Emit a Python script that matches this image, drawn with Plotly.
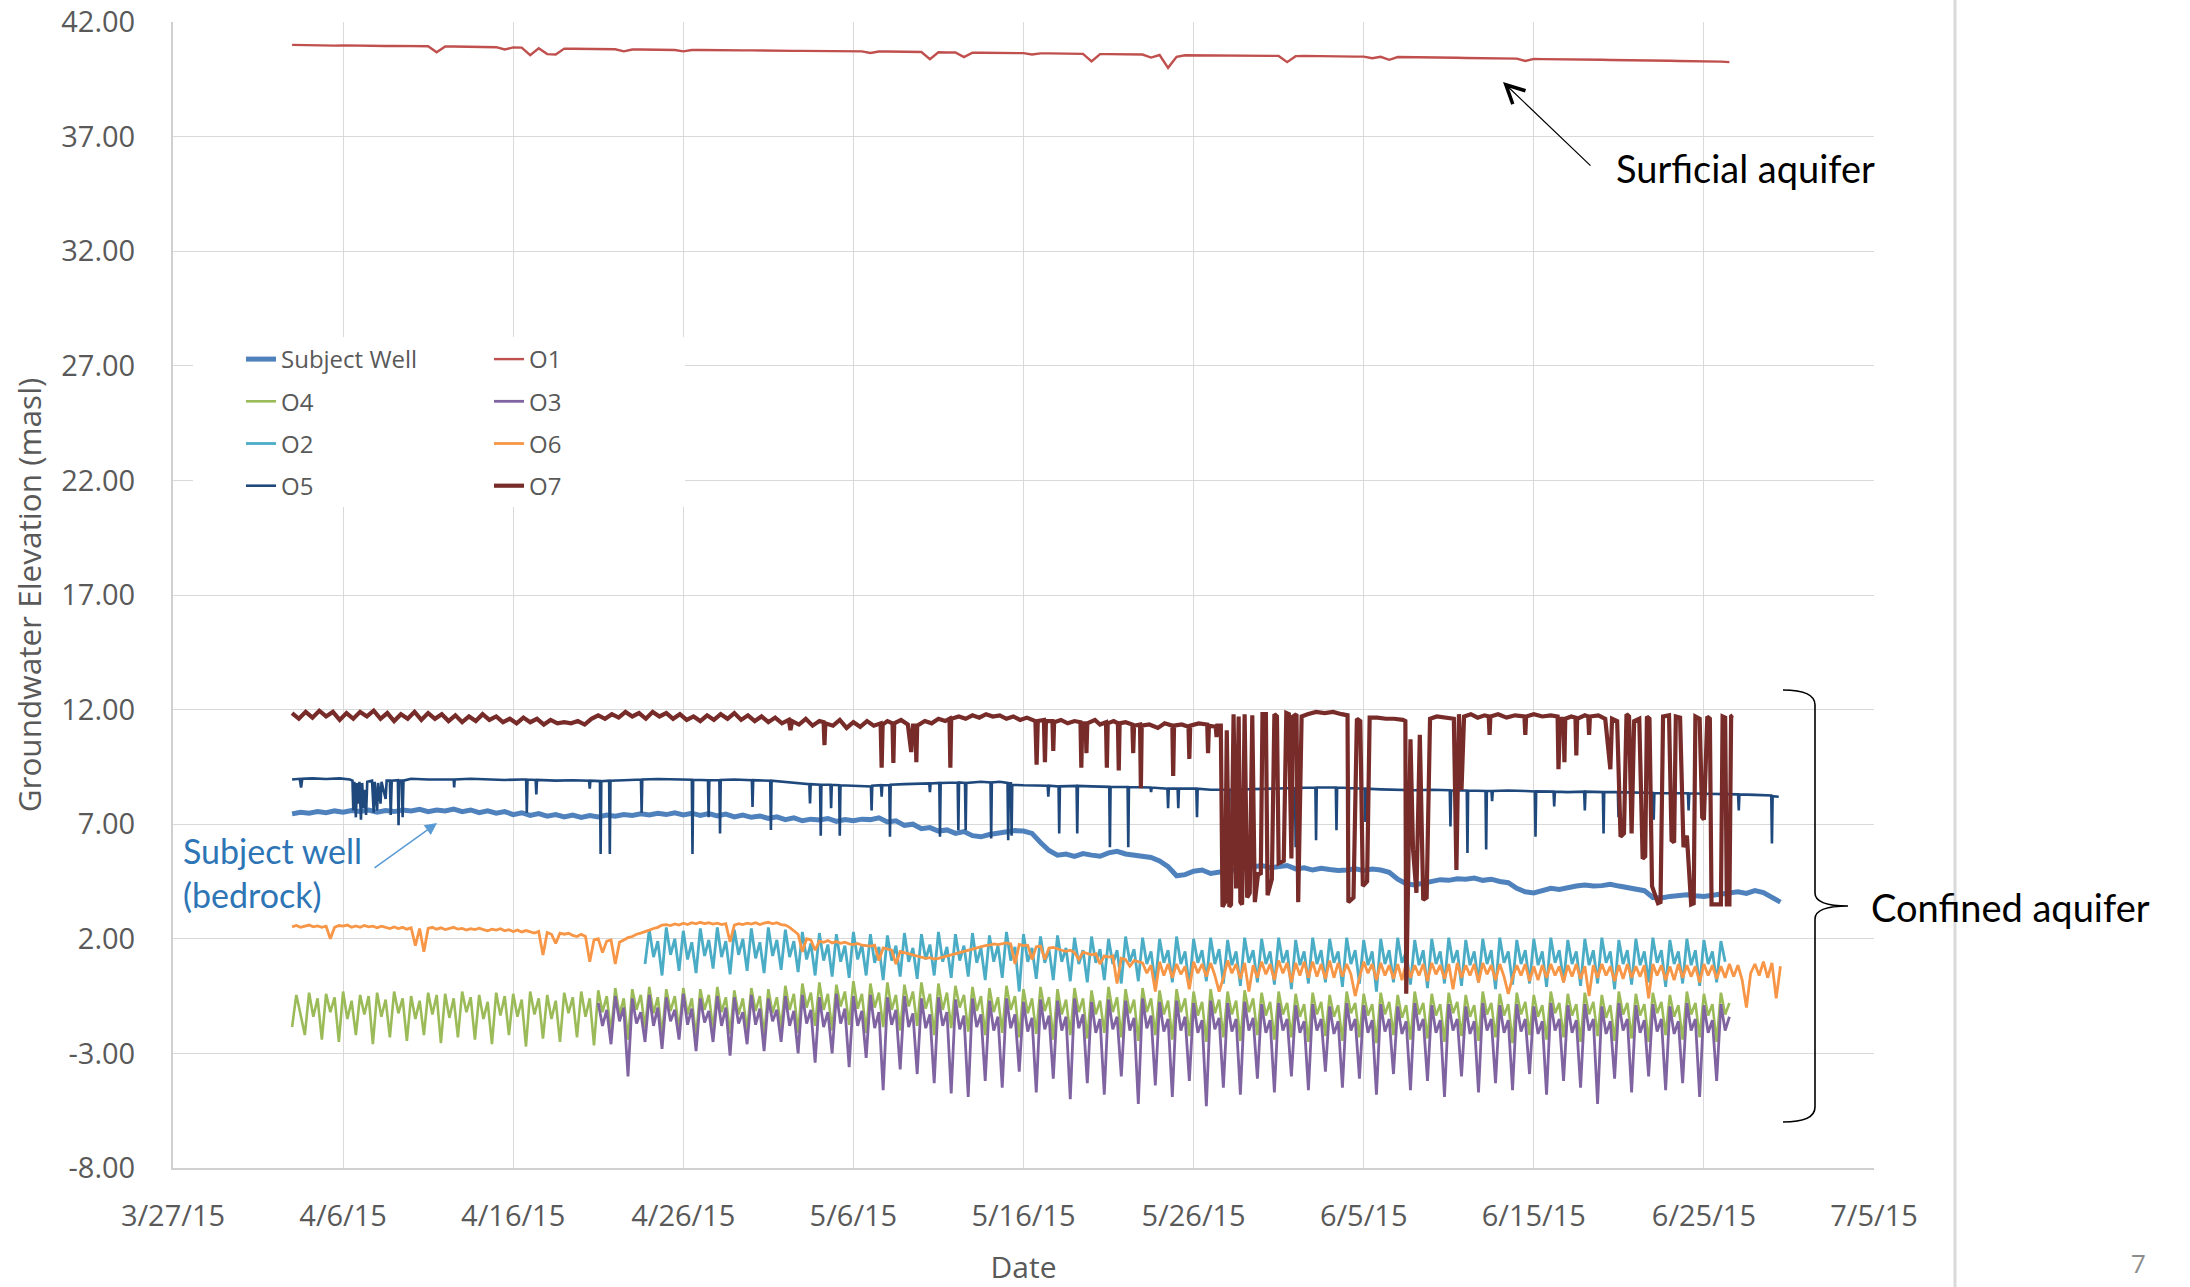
import numpy as np
import pandas as pd
import plotly.graph_objects as go

# ---------------- data (elevations in masl) ----------------
START = pd.Timestamp("2015-04-03")

# Subject Well: 12-hourly from day 0
subject_step = 0.5
subject_well = [
    7.45, 7.52, 7.48, 7.55, 7.5, 7.58, 7.52, 7.6, 7.55, 7.62, 7.52, 7.6, 7.55, 7.62, 7.58, 7.65,
    7.55, 7.62, 7.58, 7.66, 7.55, 7.62, 7.5, 7.58, 7.48, 7.55, 7.42, 7.5, 7.38, 7.46, 7.35, 7.42,
    7.32, 7.4, 7.3, 7.38, 7.32, 7.4, 7.35, 7.42, 7.38, 7.45, 7.4, 7.48, 7.42, 7.5, 7.4, 7.48,
    7.38, 7.46, 7.36, 7.44, 7.32, 7.4, 7.3, 7.36, 7.25, 7.32, 7.2, 7.28, 7.15, 7.22, 7.18, 7.25,
    7.12, 7.2, 7.15, 7.22, 7.2, 7.28, 7.1, 7.15, 6.95, 7.0, 6.8, 6.85, 6.7, 6.75, 6.6, 6.68,
    6.5, 6.45, 6.55, 6.6, 6.65, 6.72, 6.7, 6.6, 6.2, 5.85, 5.65, 5.7, 5.6, 5.72, 5.65, 5.6,
    5.75, 5.82, 5.7, 5.65, 5.6, 5.55, 5.4, 5.15, 4.75, 4.8, 4.95, 5.0, 4.85, 4.9, 4.95, 5.05,
    5.1, 5.15, 5.2, 5.1, 5.15, 5.2, 5.05, 5.1, 5.0, 5.08, 5.02, 4.98, 5.0, 5.05, 4.98, 5.04,
    5.0, 4.9, 4.6, 4.4, 4.35, 4.42, 4.5, 4.58, 4.55, 4.62, 4.6, 4.65, 4.55, 4.6, 4.5, 4.45,
    4.2, 4.05, 4.0, 4.1, 4.2, 4.15, 4.25, 4.3, 4.35, 4.3, 4.32, 4.38, 4.3, 4.25, 4.15, 4.1,
    3.8, 3.78, 3.85, 3.9, 3.92, 3.88, 3.85, 3.9, 3.95, 4.0, 4.05, 3.98, 4.1, 4.02, 3.8, 3.6,
]

# O1: 12-hourly from day 0
o1_step = 0.5
o1 = [
    41.0, 40.99, 41.0, 40.98, 40.99, 40.97, 40.98, 40.97, 40.97, 40.96, 40.97, 40.95, 40.96, 40.95,
    40.95, 40.94, 40.94, 40.68, 40.93, 40.93, 40.92, 40.91, 40.91, 40.9, 40.9, 40.8, 40.89, 40.88,
    40.55, 40.85, 40.6, 40.58, 40.84, 40.83, 40.83, 40.82, 40.82, 40.81, 40.81, 40.72, 40.8, 40.8,
    40.79, 40.79, 40.79, 40.78, 40.72, 40.78, 40.78, 40.77, 40.77, 40.77, 40.76, 40.76, 40.76, 40.75,
    40.75, 40.75, 40.75, 40.74, 40.74, 40.74, 40.73, 40.73, 40.73, 40.72, 40.72, 40.72, 40.65, 40.71,
    40.71, 40.7, 40.7, 40.69, 40.69, 40.38, 40.68, 40.67, 40.67, 40.47, 40.66, 40.66, 40.66, 40.65,
    40.65, 40.64, 40.64, 40.58, 40.63, 40.63, 40.62, 40.62, 40.62, 40.61, 40.28, 40.6, 40.6, 40.6,
    40.59, 40.58, 40.58, 40.45, 40.56, 40.0, 40.48, 40.55, 40.55, 40.55, 40.54, 40.54, 40.54, 40.53,
    40.53, 40.53, 40.53, 40.52, 40.52, 40.25, 40.51, 40.52, 40.51, 40.5, 40.5, 40.5, 40.5, 40.49,
    40.49, 40.42, 40.48, 40.35, 40.47, 40.47, 40.46, 40.46, 40.45, 40.45, 40.44, 40.44, 40.43, 40.43,
    40.42, 40.42, 40.41, 40.41, 40.4, 40.3, 40.39, 40.38, 40.38, 40.37, 40.37, 40.36, 40.36, 40.35,
    40.35, 40.34, 40.34, 40.33, 40.33, 40.32, 40.32, 40.31, 40.31, 40.3, 40.3, 40.29, 40.29, 40.28,
    40.27, 40.25,
]

# O4: 6-hourly from day 0
o4_step = 0.25
o4 = [
    -1.85, -0.45, -1.3, -2.2, -0.35, -1.4, -0.6, -2.4, -0.4, -1.2, -0.55, -2.5, -0.3, -1.5, -0.7, -2.2,
    -0.45, -1.3, -0.5, -2.6, -0.35, -1.4, -0.65, -2.3, -0.3, -1.25, -0.6, -2.45, -0.5, -1.5, -0.7, -2.2,
    -0.35, -1.3, -0.45, -2.55, -0.4, -1.45, -0.6, -2.3, -0.3, -1.2, -0.55, -2.4, -0.45, -1.5, -0.75, -2.6,
    -0.35, -1.35, -0.5, -2.2, -0.4, -1.4, -0.65, -2.7, -0.3, -1.3, -0.6, -2.35, -0.45, -1.5, -0.7, -2.5,
    -0.35, -1.25, -0.55, -2.3, -0.3, -1.4, -0.6, -2.65, -0.25, -1.2, -0.5, -2.1, -0.15, -1.3, -0.6, -2.4,
    -0.2, -1.1, -0.45, -1.9, -0.1, -1.25, -0.55, -2.2, -0.2, -1.15, -0.5, -2.0, -0.15, -1.3, -0.6, -2.3,
    -0.2, -1.1, -0.45, -1.95, -0.1, -1.2, -0.55, -2.15, -0.25, -1.3, -0.6, -2.0, -0.15, -1.15, -0.5, -2.25,
    -0.2, -1.25, -0.55, -1.9, -0.05, -1.1, -0.4, -2.1, 0.05, -1.0, -0.35, -1.8, 0.1, -1.1, -0.4, -2.0,
    0.0, -0.95, -0.3, -1.75, 0.15, -1.05, -0.4, -2.1, 0.05, -1.0, -0.35, -1.85, 0.1, -1.1, -0.45, -2.0,
    0.0, -0.95, -0.3, -1.8, 0.1, -1.05, -0.4, -2.2, 0.05, -1.1, -0.35, -1.9, -0.05, -1.0, -0.45, -2.05,
    -0.1, -1.15, -0.5, -2.2, -0.15, -1.2, -0.55, -2.1, -0.05, -1.1, -0.5, -2.3, -0.2, -1.25, -0.6, -2.15,
    -0.1, -1.15, -0.55, -2.4, -0.2, -1.3, -0.65, -2.2, -0.15, -1.2, -0.6, -2.35, -0.25, -1.3, -0.7, -2.1,
    -0.1, -1.2, -0.55, -2.3, -0.2, -1.25, -0.65, -2.45, -0.15, -1.2, -0.6, -2.2, -0.25, -1.3, -0.7, -2.4,
    -0.2, -1.2, -0.6, -2.25, -0.3, -1.35, -0.75, -2.5, -0.2, -1.25, -0.65, -2.3, -0.3, -1.3, -0.7, -2.45,
    -0.25, -1.2, -0.6, -2.2, -0.35, -1.35, -0.75, -2.4, -0.3, -1.3, -0.8, -2.3, -0.4, -1.4, -0.85, -2.5,
    -0.35, -1.3, -0.75, -2.25, -0.45, -1.4, -0.9, -2.45, -0.3, -1.25, -0.8, -2.3, -0.4, -1.35, -0.85, -2.55,
    -0.35, -1.3, -0.75, -2.2, -0.45, -1.45, -0.9, -2.4, -0.3, -1.3, -0.8, -2.35, -0.4, -1.35, -0.85, -2.5,
    -0.35, -1.25, -0.75, -2.25, -0.45, -1.4, -0.9, -2.45, -0.3, -1.3, -0.8, -2.3, -0.4, -1.35, -0.85, -2.55,
    -0.35, -1.3, -0.75, -2.2, -0.45, -1.4, -0.9, -2.4, -0.3, -1.25, -0.8, -2.3, -0.4, -1.35, -0.85, -2.5,
    -0.35, -1.3, -0.75, -2.25, -0.45, -1.45, -0.9, -2.45, -0.3, -1.3, -0.8, -2.35, -0.4, -1.35, -0.85, -2.5,
    -0.35, -1.25, -0.75, -2.2, -0.45, -1.4, -0.9, -2.4, -0.3, -1.3, -0.8, -2.3, -0.4, -1.35, -0.85, -2.5,
    -0.35, -1.3, -0.8,
]

# O3: 6-hourly from day 18
o3_start = 18.0
o3_step = 0.25
o3 = [
    -0.8, -1.8, -1.1, -2.6, -0.5, -1.6, -1.0, -4.0, -0.6, -1.7, -1.2, -2.5, -0.45, -1.8, -1.0, -2.8,
    -0.55, -1.6, -1.1, -2.4, -0.4, -1.75, -1.05, -2.9, -0.6, -1.65, -1.15, -2.5, -0.5, -1.8, -1.0, -3.1,
    -0.55, -1.7, -1.2, -2.6, -0.45, -1.75, -1.05, -2.9, -0.6, -1.6, -1.1, -2.5, -0.5, -1.8, -1.15, -3.0,
    -0.45, -1.7, -1.1, -3.4, -0.55, -1.85, -1.2, -3.0, -0.4, -1.7, -1.05, -3.6, -0.5, -1.8, -1.15, -3.2,
    -0.45, -1.9, -1.2, -4.6, -0.55, -1.75, -1.1, -3.7, -0.5, -1.85, -1.25, -3.9, -0.6, -1.9, -1.3, -4.3,
    -0.55, -1.8, -1.2, -4.75, -0.65, -1.95, -1.35, -4.9, -0.6, -1.85, -1.3, -4.2, -0.7, -2.0, -1.4, -4.5,
    -0.6, -1.9, -1.3, -3.8, -0.75, -2.05, -1.45, -4.7, -0.65, -1.95, -1.35, -4.1, -0.7, -2.0, -1.4, -5.0,
    -0.6, -1.9, -1.3, -4.3, -0.75, -2.1, -1.5, -4.8, -0.65, -1.95, -1.4, -4.0, -0.7, -2.0, -1.45, -5.2,
    -0.6, -1.9, -1.35, -4.4, -0.75, -2.05, -1.5, -4.9, -0.7, -2.0, -1.4, -4.2, -0.8, -2.1, -1.55, -5.3,
    -0.7, -1.95, -1.45, -4.5, -0.8, -2.05, -1.5, -4.8, -0.75, -2.0, -1.45, -4.1, -0.85, -2.1, -1.55, -4.7,
    -0.8, -2.0, -1.5, -4.0, -0.9, -2.1, -1.6, -4.6, -0.85, -2.0, -1.5, -3.8, -0.95, -2.15, -1.6, -4.5,
    -0.8, -2.0, -1.5, -4.1, -0.9, -2.1, -1.55, -4.8, -0.85, -2.05, -1.5, -3.9, -0.95, -2.15, -1.6, -4.6,
    -0.8, -2.0, -1.5, -4.2, -0.9, -2.1, -1.55, -4.9, -0.85, -2.0, -1.5, -4.0, -0.95, -2.15, -1.6, -4.7,
    -0.8, -2.0, -1.5, -4.3, -0.9, -2.1, -1.55, -4.6, -0.85, -2.05, -1.5, -3.9, -0.95, -2.15, -1.6, -4.8,
    -0.8, -2.0, -1.5, -4.2, -0.9, -2.1, -1.55, -4.5, -0.85, -2.0, -1.5, -5.2, -0.95, -2.15, -1.6, -4.1,
    -0.8, -2.0, -1.5, -4.7, -0.9, -2.1, -1.55, -4.0, -0.85, -2.05, -1.5, -4.6, -0.95, -2.15, -1.6, -4.3,
    -0.8, -2.0, -1.5, -4.9, -0.9, -2.1, -1.55, -4.2, -0.85, -2.0, -1.4,
]

# O2: 6-hourly from day 20.75
o2_start = 20.75
o2_step = 0.25
o2 = [
    0.9,
    2.4, 1.2, 1.9, 0.4, 2.5, 1.3, 2.0, 0.6, 2.35, 1.1, 1.85, 0.5, 2.45, 1.25, 1.95, 0.7,
    2.5, 1.2, 1.9, 0.45, 2.4, 1.3, 2.0, 0.6, 2.45, 1.15, 1.85, 0.5, 2.5, 1.25, 1.95, 0.65,
    2.4, 1.2, 1.9, 0.55, 2.3, 1.1, 1.8, 0.4, 2.25, 1.05, 1.75, 0.35, 2.2, 1.0, 1.7, 0.3,
    2.3, 1.1, 1.75, 0.4, 2.2, 0.95, 1.65, 0.2, 2.15, 1.05, 1.7, 0.35, 2.25, 1.0, 1.6, 0.25,
    2.2, 1.1, 1.75, 0.4, 2.3, 1.0, 1.65, 0.3, 2.2, 1.05, 1.7, 0.35, 2.25, 0.95, 1.6, 0.2,
    2.15, 1.0, 1.7, 0.3, 2.3, 1.05, 1.65, -0.3, 2.2, 1.0, 1.6, 0.25, 2.1, 0.95, 1.55, 0.2,
    2.15, 1.0, 1.6, 0.15, 2.05, 0.9, 1.5, 0.1, 2.1, 0.95, 1.55, 0.2, 2.0, 0.9, 1.5, 0.05,
    2.1, 1.0, 1.55, 0.15, 2.05, 0.9, 1.45, 0.0, 2.0, 0.95, 1.5, 0.1, 2.1, 0.9, 1.45, -0.1,
    2.0, 0.95, 1.5, 0.15, 2.05, 0.9, 1.55, 0.05, 1.95, 0.85, 1.45, -0.05, 2.05, 0.95, 1.5, 0.1,
    2.0, 0.9, 1.45, 0.0, 2.05, 0.95, 1.5, -0.2, 1.95, 0.85, 1.45, 0.05, 2.05, 0.9, 1.5, 0.1,
    2.0, 0.95, 1.45, -0.1, 2.05, 0.9, 1.5, 0.05, 1.95, 0.85, 1.45, -0.3, 2.0, 0.9, 1.5, 0.1,
    2.05, 0.95, 1.45, 0.0, 1.95, 0.85, 1.5, -0.15, 2.0, 0.9, 1.45, 0.05, 2.05, 0.95, 1.5, -0.05,
    1.95, 0.85, 1.45, 0.1, 2.0, 0.9, 1.5, -0.2, 2.05, 0.95, 1.45, 0.0, 1.95, 0.9, 1.5, 0.05,
    2.0, 0.85, 1.45, -0.1, 2.05, 0.95, 1.5, 0.1, 1.95, 0.9, 1.45, -0.05, 2.0, 0.85, 1.5, 0.05,
    2.05, 0.95, 1.45, -0.2, 1.95, 0.9, 1.5, 0.0, 2.0, 0.85, 1.45, 0.1, 2.05, 0.95, 1.5, -0.1,
    1.95, 0.9, 1.45, 0.05, 2.0, 0.85, 1.5, -0.05, 1.95, 0.9, 1.45, 0.1,
    1.9, 1.0,
]

# O6: 6-hourly from day 0
o6_step = 0.25
o6 = [
    2.52, 2.58, 2.5, 2.55, 2.6, 2.52, 2.56, 2.5, 2.55, 2.0, 2.5, 2.58, 2.55, 2.6, 2.5, 2.56,
    2.5, 2.58, 2.52, 2.55, 2.48, 2.55, 2.5, 2.45, 2.52, 2.45, 2.5, 2.42, 2.48, 1.7, 2.45, 1.43,
    2.45, 2.5, 2.42, 2.48, 2.4, 2.46, 2.5, 2.42, 2.45, 2.38, 2.44, 2.4, 2.46, 2.4, 2.35, 2.42,
    2.38, 2.44, 2.35, 2.4, 2.32, 2.38, 2.3, 2.36, 2.3, 2.25, 2.32, 1.29, 2.28, 2.2, 1.8, 2.25,
    2.2, 2.24, 2.15, 2.1, 2.2, 2.1, 1.0, 1.95, 2.0, 1.4, 1.9, 1.95, 0.9, 1.85, 1.95, 2.05,
    2.1, 2.2, 2.25, 2.3, 2.38, 2.45, 2.5, 2.6, 2.62, 2.58, 2.65, 2.6, 2.68, 2.62, 2.7, 2.65,
    2.72, 2.66, 2.7, 2.64, 2.68, 2.62, 2.66, 1.86, 2.6, 2.66, 2.62, 2.68, 2.64, 2.7, 2.62, 2.68,
    2.72, 2.65, 2.7, 2.62, 2.6, 2.5, 2.35, 2.2, 1.43, 2.0, 1.95, 1.5, 1.9, 1.85, 1.92, 1.82,
    1.88, 1.8, 1.85, 1.78, 1.75, 1.8, 1.72, 1.7, 1.68, 1.72, 1.05, 1.6, 1.55, 1.5, 0.9, 1.45,
    1.4, 1.35, 1.3, 1.25, 1.2, 1.15, 1.18, 1.12, 1.15, 1.2, 1.28, 1.3, 1.35, 1.4, 1.45, 1.5,
    1.55, 1.6, 1.65, 1.7, 1.72, 1.78, 1.75, 1.8, 1.82, 1.78, 0.9, 1.75, 1.7, 1.72, 1.1, 1.65,
    1.68, 1.1, 1.6, 1.62, 1.55, 1.5, 1.45, 1.5, 1.4, 1.1, 1.42, 1.35, 1.3, 1.35, 0.9, 1.25,
    1.2, 1.25, 0.05, 1.15, 1.1, 0.8, 1.05, 1.0,
    0.95, 0.5, 0.85, -0.3, 1.0, 0.4, 0.9, 0.3, 0.9, 0.45, 0.8, -0.2, 1.0, 0.5, 0.9, 0.35,
    0.95, 0.4, -0.3, 0.3, 1.05, 0.5, 0.9, 0.25, 0.95, -0.3, 0.85, 0.3, 1.0, 0.45, 0.9, 0.2,
    1.05, 0.5, 0.95, 0.1, 0.95, 0.4, 1.0, 0.3, 1.0, 0.35, 0.9, 0.25, 1.05, 0.3, 0.95, 0.35,
    0.9, 0.45, -0.5, 0.3, 1.0, 0.5, 0.9, 0.2, 0.95, 0.4, 0.85, 0.25, 0.9, 0.2, 0.95, 0.3,
    0.85, 0.4, 0.9, 0.15, 0.95, 0.45, 0.85, 0.25, 0.9, -0.2, 0.95, 0.3, 0.85, 0.4, 0.9, 0.1,
    0.95, 0.45, 0.85, 0.2, 0.9, 0.35, -0.4, 0.3, 0.85, 0.4, 0.9, 0.15, 0.8, 0.2, 0.85, 0.3,
    0.9, 0.4, 0.8, 0.1, 0.85, 0.35, 0.9, 0.25, 0.8, -0.5, 0.85, 0.3, 0.9, 0.4, 0.8, 0.15,
    0.85, 0.25, 0.9, 0.3, 0.8, 0.35, 0.85, -0.6, 0.9, 0.4, 0.85, 0.2, 0.8, 0.2, 0.9, 0.3,
    0.85, 0.35, 0.8, 0.1, 0.9, 0.4, 0.85, 0.25, 0.8, 0.3, 0.9, 0.35, 0.85, 0.2, -1.0, 0.5,
    0.9, 0.4, 1.0, 0.3, 0.95, -0.6, 0.8,
]

# O5: (day, value) readings incl. short drawdown spikes
o5_pts = [
    (0.0, 8.95), (0.45, 8.98), (0.53, 8.6), (0.6, 8.98), (1.2, 9.0), (2.0, 8.97), (2.8, 9.0), (3.4, 8.95),
    (3.55, 8.9), (3.6, 7.6), (3.66, 8.85), (3.75, 7.3), (3.82, 8.8), (3.9, 7.9), (3.96, 8.85), (4.05, 7.2),
    (4.12, 8.8), (4.2, 7.7), (4.26, 8.5), (4.35, 7.4), (4.42, 8.85), (4.7, 8.9), (4.8, 7.5), (4.86, 8.85),
    (5.0, 7.6), (5.06, 8.8), (5.2, 7.9), (5.26, 8.85), (5.5, 8.1), (5.56, 8.9), (5.75, 8.9), (5.8, 7.4),
    (5.86, 8.9), (6.22, 8.92), (6.26, 6.95), (6.3, 8.9), (6.45, 8.9), (6.5, 7.3), (6.55, 8.9),
    (7.0, 8.98), (8.0, 8.95), (9.0, 8.97), (9.5, 8.95), (9.53, 8.6), (9.56, 8.95), (10.5, 8.98),
    (11.5, 8.95), (12.5, 8.93), (13.5, 8.95), (13.76, 8.95), (13.8, 7.5), (13.84, 8.95), (14.32, 8.93),
    (14.36, 8.3), (14.4, 8.93), (15.5, 8.9), (16.5, 8.92), (17.46, 8.9), (17.5, 8.55), (17.54, 8.9),
    (18.1, 8.88), (18.14, 5.7), (18.18, 8.88), (18.64, 8.9), (18.68, 5.7), (18.72, 8.9), (19.5, 8.92),
    (20.51, 8.95), (20.55, 7.5), (20.59, 8.95), (21.5, 8.97), (22.5, 8.95), (23.5, 8.94), (23.54, 5.7),
    (23.58, 8.94), (24.45, 8.92), (24.49, 7.3), (24.53, 8.92), (25.12, 8.93), (25.16, 6.6), (25.2, 8.93),
    (26.0, 8.95), (27.03, 8.92), (27.07, 7.75), (27.11, 8.92), (28.11, 8.9), (28.15, 6.75), (28.19, 8.9),
    (29.0, 8.85), (30.0, 8.8), (30.41, 8.75), (30.45, 7.9), (30.49, 8.75), (31.04, 8.72), (31.08, 6.5),
    (31.12, 8.72), (31.65, 8.72), (31.69, 7.7), (31.73, 8.72), (32.16, 8.7), (32.2, 6.5), (32.24, 8.7),
    (33.0, 8.68), (34.03, 8.65), (34.07, 7.6), (34.11, 8.68), (34.62, 8.7), (34.66, 8.2), (34.7, 8.7),
    (35.11, 8.7), (35.15, 6.45), (35.19, 8.72), (36.0, 8.75), (37.0, 8.75), (37.46, 8.78), (37.5, 8.4),
    (37.54, 8.78), (38.05, 8.8), (38.09, 6.45), (38.13, 8.8), (39.13, 8.82), (39.17, 6.74), (39.21, 8.82),
    (39.56, 8.8), (39.6, 6.74), (39.64, 8.8), (40.5, 8.85), (41.06, 8.82), (41.1, 6.38), (41.14, 8.82),
    (41.6, 8.85), (42.06, 8.8), (42.1, 6.3), (42.14, 8.78), (42.26, 8.78), (42.3, 6.5), (42.34, 8.72),
    (43.0, 8.7), (44.0, 8.68), (44.42, 8.68), (44.46, 8.2), (44.5, 8.68), (45.06, 8.65), (45.1, 6.6),
    (45.14, 8.65), (46.12, 8.67), (46.16, 6.6), (46.2, 8.67), (47.0, 8.65), (48.04, 8.63), (48.08, 6.0),
    (48.12, 8.63), (49.12, 8.62), (49.16, 6.0), (49.2, 8.62), (50.0, 8.6), (50.46, 8.6), (50.5, 8.4),
    (50.54, 8.6), (51.46, 8.55), (51.5, 7.7), (51.54, 8.55), (52.06, 8.55), (52.1, 7.7), (52.14, 8.55),
    (53.16, 8.55), (53.2, 7.3), (53.24, 8.55), (54.0, 8.5), (55.03, 8.5), (55.07, 6.45), (55.11, 8.5),
    (56.0, 8.52), (57.0, 8.55), (58.0, 8.57), (58.96, 8.58), (59.0, 6.0), (59.04, 8.58), (60.16, 8.6),
    (60.2, 6.3), (60.24, 8.6), (61.36, 8.6), (61.4, 6.74), (61.44, 8.6), (62.06, 8.58), (62.1, 6.0),
    (62.14, 8.58), (63.06, 8.55), (63.1, 7.1), (63.14, 8.55), (64.0, 8.52), (65.0, 8.5), (66.0, 8.48),
    (67.0, 8.5), (68.06, 8.48), (68.1, 6.9), (68.14, 8.48), (69.06, 8.47), (69.1, 5.74), (69.14, 8.47),
    (70.16, 8.45), (70.2, 5.9), (70.24, 8.45), (70.51, 8.45), (70.55, 8.0), (70.59, 8.45), (71.5, 8.47),
    (72.5, 8.45), (73.06, 8.43), (73.1, 6.45), (73.14, 8.43), (74.16, 8.42), (74.2, 7.77), (74.24, 8.42),
    (75.0, 8.4), (75.96, 8.42), (76.0, 7.6), (76.04, 8.42), (77.06, 8.4), (77.1, 6.6), (77.14, 8.4),
    (77.94, 8.4), (77.98, 7.3), (78.02, 8.4), (79.0, 8.38), (80.01, 8.36), (80.05, 7.2), (80.09, 8.36),
    (81.0, 8.35), (82.06, 8.35), (82.1, 7.6), (82.14, 8.35), (83.0, 8.33), (84.0, 8.3), (85.01, 8.3),
    (85.05, 7.6), (85.09, 8.3), (86.0, 8.28), (86.96, 8.25), (87.0, 6.16), (87.04, 8.22), (87.4, 8.2),
]

# O7: (day, value) readings
o7_pts = [
    (0, 11.85), (0.4, 11.6), (0.8, 11.9), (1.2, 11.65), (1.6, 11.95), (2.0, 11.7), (2.4, 11.9), (2.8, 11.55),
    (3.2, 11.85), (3.6, 11.6), (4.0, 11.9), (4.4, 11.7), (4.8, 11.95), (5.2, 11.6), (5.6, 11.85), (6.0, 11.5),
    (6.4, 11.8), (6.8, 11.6), (7.2, 11.9), (7.6, 11.55), (8.0, 11.85), (8.4, 11.6), (8.8, 11.8), (9.2, 11.5),
    (9.6, 11.75), (10.0, 11.45), (10.4, 11.7), (10.8, 11.5), (11.2, 11.8), (11.6, 11.55), (12.0, 11.7),
    (12.4, 11.45), (12.8, 11.6), (13.2, 11.4), (13.6, 11.65), (14.0, 11.45), (14.4, 11.6), (14.8, 11.35),
    (15.2, 11.55), (15.6, 11.4), (16.0, 11.45), (16.4, 11.4), (16.8, 11.5), (17.2, 11.35), (17.6, 11.6),
    (18.0, 11.75), (18.4, 11.6), (18.8, 11.8), (19.2, 11.65), (19.6, 11.9), (20.0, 11.7), (20.4, 11.85),
    (20.8, 11.6), (21.2, 11.9), (21.6, 11.7), (22.0, 11.85), (22.4, 11.6), (22.8, 11.8), (23.2, 11.55),
    (23.6, 11.7), (24.0, 11.5), (24.4, 11.75), (24.8, 11.55), (25.2, 11.8), (25.6, 11.6), (26.0, 11.85),
    (26.4, 11.55), (26.8, 11.75), (27.2, 11.5), (27.6, 11.7), (28.0, 11.45), (28.4, 11.65), (28.8, 11.4),
    (29.2, 11.55), (29.3, 11.1), (29.4, 11.5), (29.8, 11.35), (30.2, 11.6), (30.6, 11.3), (31.0, 11.5),
    (31.25, 11.45), (31.3, 10.45), (31.35, 11.4), (31.8, 11.3), (32.2, 11.55), (32.6, 11.2), (33.0, 11.45),
    (33.4, 11.25), (33.8, 11.5), (34.2, 11.3), (34.6, 11.4), (34.66, 9.46), (34.72, 11.35), (35.0, 11.5),
    (35.3, 11.4), (35.35, 9.67), (35.4, 11.4), (35.8, 11.55), (36.2, 11.35), (36.4, 10.15), (36.5, 11.3),
    (36.65, 11.3), (36.7, 9.7), (36.75, 11.3), (37.2, 11.5), (37.6, 11.4), (38.0, 11.6), (38.4, 11.5),
    (38.65, 11.6), (38.7, 9.46), (38.75, 11.6), (39.2, 11.7), (39.6, 11.6), (40.0, 11.75), (40.4, 11.65),
    (40.8, 11.8), (41.2, 11.7), (41.6, 11.75), (42.0, 11.6), (42.4, 11.7), (42.8, 11.55), (43.2, 11.65),
    (43.7, 11.5), (43.77, 9.6), (43.84, 11.5), (44.2, 11.55), (44.26, 9.7), (44.32, 11.5), (44.7, 11.5),
    (44.75, 10.2), (44.8, 11.45), (45.2, 11.55), (45.6, 11.4), (46.0, 11.5), (46.35, 11.45), (46.4, 9.46),
    (46.45, 11.4), (46.65, 11.4), (46.7, 10.1), (46.75, 11.4), (47.2, 11.55), (47.5, 11.35), (47.85, 11.45),
    (47.9, 9.46), (47.95, 11.4), (48.3, 11.5), (48.55, 11.4), (48.6, 9.35), (48.65, 11.4), (49.0, 11.45),
    (49.4, 11.35), (49.45, 10.1), (49.5, 11.3), (49.85, 11.35), (49.9, 8.57), (49.95, 11.3), (50.4, 11.35),
    (50.9, 11.2), (51.3, 11.4), (51.75, 11.3), (51.8, 9.1), (51.85, 11.3), (52.3, 11.35), (52.7, 11.25),
    (52.75, 9.85), (52.8, 11.3), (53.3, 11.4), (53.8, 11.35), (53.85, 10.1), (53.9, 11.3), (54.3, 11.25),
    (54.35, 10.8), (54.4, 11.3), (54.6, 11.3), (54.7, 3.4), (54.85, 3.6), (54.95, 11.1), (55.1, 3.4),
    (55.2, 3.5), (55.35, 11.8), (55.5, 4.2), (55.65, 11.7), (55.75, 3.6), (55.85, 3.5), (56.0, 11.8),
    (56.15, 3.8), (56.3, 4.0), (56.45, 11.75), (56.6, 3.6), (56.8, 4.9), (56.95, 4.8), (57.05, 11.8),
    (57.25, 11.8), (57.35, 3.9), (57.6, 4.6), (57.75, 11.8), (57.9, 11.7), (58.0, 5.3), (58.3, 5.4),
    (58.45, 11.85), (58.6, 11.8), (58.75, 5.5), (58.85, 11.7), (59.05, 11.8), (59.15, 3.6), (59.35, 11.7),
    (59.7, 11.8), (60.2, 11.9), (60.7, 11.85), (61.2, 11.9), (61.7, 11.8), (62.05, 11.75), (62.1, 3.6),
    (62.4, 3.8), (62.6, 11.6), (62.8, 11.5), (62.95, 4.3), (63.2, 4.5), (63.35, 11.65), (63.8, 11.65),
    (64.3, 11.6), (64.8, 11.6), (65.3, 11.55), (65.45, 11.5), (65.5, -0.4), (65.6, 4.0), (65.75, 10.7),
    (65.9, 5.9), (66.1, 4.0), (66.3, 10.9), (66.5, 3.7), (66.7, 3.8), (66.9, 11.6), (67.3, 11.7),
    (67.8, 11.65), (68.3, 11.6), (68.45, 5.0), (68.6, 11.8), (68.75, 8.5), (68.9, 11.7), (69.3, 11.8),
    (69.7, 11.65), (70.1, 11.75), (70.35, 11.7), (70.4, 10.9), (70.45, 11.7), (70.9, 11.8), (71.4, 11.65),
    (71.9, 11.75), (72.45, 11.7), (72.5, 10.9), (72.55, 11.7), (73.0, 11.8), (73.5, 11.7), (74.0, 11.75),
    (74.4, 11.7), (74.45, 9.4), (74.55, 11.6), (74.75, 11.6), (74.8, 9.7), (74.85, 11.6), (75.2, 11.7),
    (75.45, 11.65), (75.5, 10.0), (75.55, 11.6), (76.0, 11.75), (76.2, 11.7), (76.25, 10.9), (76.3, 11.7),
    (76.8, 11.75), (77.2, 11.6), (77.5, 9.4), (77.6, 11.6), (77.9, 11.5), (78.1, 6.45), (78.3, 6.6),
    (78.45, 11.8), (78.6, 11.7), (78.75, 6.6), (78.9, 11.5), (79.2, 11.6), (79.4, 5.5), (79.55, 5.6),
    (79.65, 11.7), (79.8, 11.6), (79.95, 4.3), (80.3, 3.55), (80.45, 3.6), (80.6, 11.7), (80.95, 11.75),
    (81.1, 6.3), (81.25, 6.2), (81.35, 11.7), (81.6, 11.65), (81.8, 6.0), (82.0, 6.5), (82.25, 3.5),
    (82.4, 3.55), (82.5, 11.7), (82.75, 11.6), (82.9, 7.3), (83.0, 7.2), (83.2, 11.7), (83.35, 11.6),
    (83.45, 3.5), (84.0, 3.5), (84.1, 11.7), (84.25, 11.65), (84.35, 3.5), (84.5, 3.5), (84.6, 11.7),
    (84.7, 11.75),
]

x_tick_labels = ["3/27/15", "4/6/15", "4/16/15", "4/26/15", "5/6/15", "5/16/15",
                 "5/26/15", "6/5/15", "6/15/15", "6/25/15", "7/5/15"]
y_ticks = [-8, -3, 2, 7, 12, 17, 22, 27, 32, 37, 42]


# ---------------- helpers ----------------
def days_to_dates(days):
    return START + pd.to_timedelta(np.asarray(days, dtype=float), unit="D")


def regular(vals, start, step):
    return days_to_dates(start + step * np.arange(len(vals))), vals


def from_pts(pts):
    d, v = zip(*pts)
    return days_to_dates(d), list(v)


FONT = "Open Sans"
GREY = "#595959"

series = [
    # name, (x, y), color, width, legend
    ("Subject Well", regular(subject_well, 0.0, subject_step), "#4F81BD", 5, "legend"),
    ("O1", regular(o1, 0.0, o1_step), "#C0504D", 2.4, "legend2"),
    ("O4", regular(o4, 0.0, o4_step), "#9BBB59", 2.6, "legend"),
    ("O3", regular(o3, o3_start, o3_step), "#8064A2", 2.8, "legend2"),
    ("O2", regular(o2, o2_start, o2_step), "#4BACC6", 2.8, "legend"),
    ("O6", regular(o6, 0.0, o6_step), "#F79646", 2.8, "legend2"),
    ("O5", from_pts(o5_pts), "#1F497D", 2.6, "legend"),
    ("O7", from_pts(o7_pts), "#772C2A", 4.2, "legend2"),
]

fig = go.Figure()
for name, (xs, ys), color, width, leg in series:
    fig.add_trace(go.Scatter(
        x=xs, y=ys, mode="lines", name=name, legend=leg, legendgroup=name,
        line=dict(color=color, width=width), hoverinfo="skip",
    ))

W, H = 2190, 1287
L, R, T, B = 173, 316, 22, 119
pw, ph = W - L - R, H - T - B


def px(xp):
    return (xp - L) / pw


def py(yp):
    return 1 - (yp - T) / ph


x_tick_vals = pd.date_range("2015-03-27", periods=len(x_tick_labels), freq="10D")

fig.update_layout(
    width=W, height=H,
    margin=dict(l=L, r=R, t=T, b=B, autoexpand=False),
    paper_bgcolor="white", plot_bgcolor="white",
    font=dict(family=FONT, color=GREY, size=29),
    xaxis=dict(
        type="date", range=[x_tick_vals[0], x_tick_vals[-1]],
        tickvals=x_tick_vals, ticktext=x_tick_labels,
        showgrid=True, gridcolor="#D9D9D9", gridwidth=1.3,
        showline=True, linecolor="#D0D0D0", linewidth=2,
        zeroline=False, ticks="", ticklabelstandoff=21,
        tickfont=dict(family=FONT, size=29, color=GREY),
        title=dict(text="Date", font=dict(family=FONT, size=30, color=GREY), standoff=26),
    ),
    yaxis=dict(
        range=[-8, 42], tickvals=y_ticks, ticktext=[f"{v:.2f}" for v in y_ticks],
        showgrid=True, gridcolor="#D9D9D9", gridwidth=1.3,
        showline=True, linecolor="#D0D0D0", linewidth=2,
        zeroline=False, ticks="", ticklabelstandoff=30,
        tickfont=dict(family=FONT, size=29, color=GREY),
        title=dict(text="Groundwater Elevation (masl)",
                   font=dict(family=FONT, size=31.5, color=GREY), standoff=10),
    ),
    legend=dict(x=px(241), y=py(337), xanchor="left", yanchor="top",
                bgcolor="rgba(0,0,0,0)", tracegroupgap=8,
                font=dict(family=FONT, size=24, color=GREY)),
    legend2=dict(x=px(489), y=py(337), xanchor="left", yanchor="top",
                 bgcolor="rgba(0,0,0,0)", tracegroupgap=8,
                 font=dict(family=FONT, size=24, color=GREY)),
    showlegend=True,
)

shapes = [
    # white legend panel
    dict(type="rect", xref="paper", yref="paper", x0=px(193), x1=px(685), y0=py(507), y1=py(337),
         fillcolor="white", line=dict(width=0), layer="above"),
    # curly brace for confined aquifer
    dict(type="path", xref="paper", yref="paper",
         path=(f"M{px(1783)},{py(690)} Q{px(1815)},{py(690)} {px(1815)},{py(705)} "
               f"L{px(1815)},{py(893)} Q{px(1815)},{py(906)} {px(1848)},{py(906)} "
               f"Q{px(1815)},{py(906)} {px(1815)},{py(919)} "
               f"L{px(1815)},{py(1107)} Q{px(1815)},{py(1122)} {px(1783)},{py(1122)}"),
         line=dict(color="black", width=1.6)),
    # slide border line
    dict(type="line", xref="paper", yref="paper", x0=px(1955), x1=px(1955), y0=py(0), y1=py(H),
         line=dict(color="#D9D9D9", width=3)),
]
fig.update_layout(shapes=shapes)

ANN = "Lato"
annotations = [
    dict(text="Surficial aquifer", xref="paper", yref="paper", x=px(1745), y=py(168),
         xanchor="center", yanchor="middle", showarrow=False,
         font=dict(family=ANN, size=38, color="black")),
    dict(text="", xref="paper", yref="paper", x=px(1503), y=py(82), ax=89, ay=85,
         showarrow=True, arrowhead=5, arrowsize=3.0, arrowwidth=1.2, arrowcolor="black"),
    dict(text="Confined aquifer", xref="paper", yref="paper", x=px(2011), y=py(907),
         xanchor="center", yanchor="middle", showarrow=False,
         font=dict(family=ANN, size=38, color="black")),
    dict(text="Subject well<br>(bedrock)", xref="paper", yref="paper", x=px(181), y=py(872),
         xanchor="left", yanchor="middle", align="left", showarrow=False,
         font=dict(family=ANN, size=34, color="#2E75B6")),
    dict(text="", xref="paper", yref="paper", x=px(437), y=py(823), ax=-64, ay=46,
         showarrow=True, arrowhead=2, arrowsize=1.6, arrowwidth=1.5, arrowcolor="#5B9BD5"),
    dict(text="7", xref="paper", yref="paper", x=px(2138), y=py(1263),
         xanchor="center", yanchor="middle", showarrow=False,
         font=dict(family=FONT, size=26, color="#8C8C8C")),
]
fig.update_layout(annotations=annotations)

fig.write_html("out.html")
